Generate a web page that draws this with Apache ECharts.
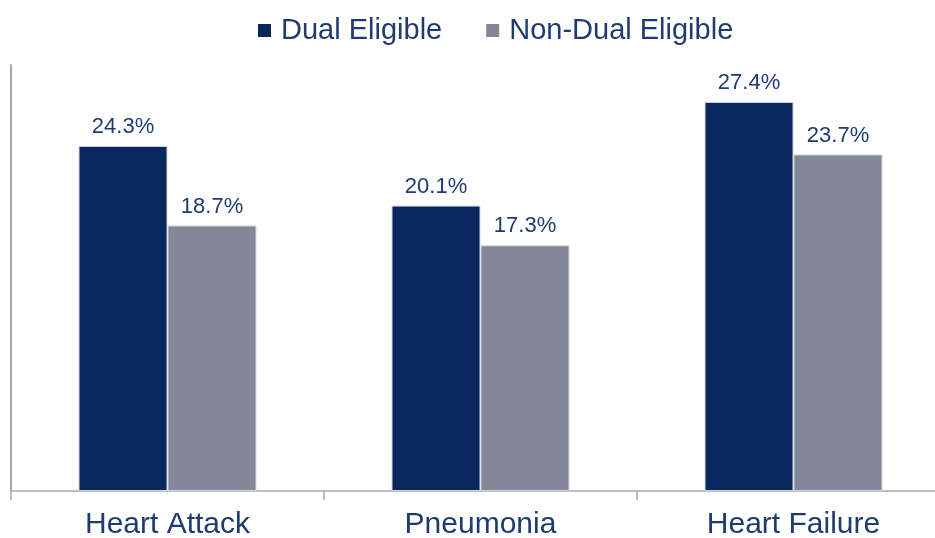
<!DOCTYPE html>
<html>
<head>
<meta charset="utf-8">
<script src="https://cdn.jsdelivr.net/npm/echarts@6/dist/echarts.min.js"></script>
<style>
  html, body { margin: 0; padding: 0; background: #fff; }
  #chart { width: 935px; height: 538px; }
</style>
</head>
<body>
<div id="chart"></div>
<script>
// data
const categories = ['Heart Attack', 'Pneumonia', 'Heart Failure']
const dualEligible = [24.3, 20.1, 27.4]
const nonDualEligible = [18.7, 17.3, 23.7]

const textColor = '#1f3b70'
const font = 'Liberation Sans, Arial, sans-serif'

const chart = echarts.init(document.getElementById('chart'))

const labelStyle = {
  show: true,
  position: 'top',
  distance: 8,
  color: textColor,
  fontSize: 22,
  fontFamily: font,
  formatter: p => p.value.toFixed(1) + '%'
}

chart.setOption({
  animation: false,
  legend: {
    top: 11,
    left: 253,
    itemWidth: 13,
    itemHeight: 13,
    itemGap: 44,
    icon: 'rect',
    itemStyle: { borderWidth: 0 },
    textStyle: { color: textColor, fontSize: 29, fontFamily: font, padding: [0, 0, 0, 5] },
    data: ['Dual Eligible', 'Non-Dual Eligible']
  },
  grid: { left: 11, right: -15, top: 65, bottom: 47, outerBoundsMode: 'none' },
  xAxis: {
    type: 'category',
    data: categories,
    axisLine: { lineStyle: { color: '#a6a8b2', width: 1.5 } },
    axisTick: { show: true, length: 9, lineStyle: { color: '#a6a8b2', width: 1.5 } },
    axisLabel: { color: textColor, fontSize: 30, fontFamily: font, margin: 19 }
  },
  yAxis: {
    type: 'value',
    min: 0,
    max: 30,
    axisLine: { show: true, lineStyle: { color: '#a6a8b2', width: 2 } },
    axisTick: { show: false },
    axisLabel: { show: false },
    splitLine: { show: false }
  },
  series: [
    {
      name: 'Dual Eligible',
      type: 'bar',
      data: dualEligible,
      barWidth: 89,
      barGap: '0%',
      itemStyle: { color: '#0a275d', borderColor: '#d4d6dc', borderWidth: 1 },
      label: labelStyle
    },
    {
      name: 'Non-Dual Eligible',
      type: 'bar',
      data: nonDualEligible,
      barWidth: 89,
      itemStyle: { color: '#838899', borderColor: '#d4d6dc', borderWidth: 1 },
      label: labelStyle
    }
  ]
})
</script>
</body>
</html>
